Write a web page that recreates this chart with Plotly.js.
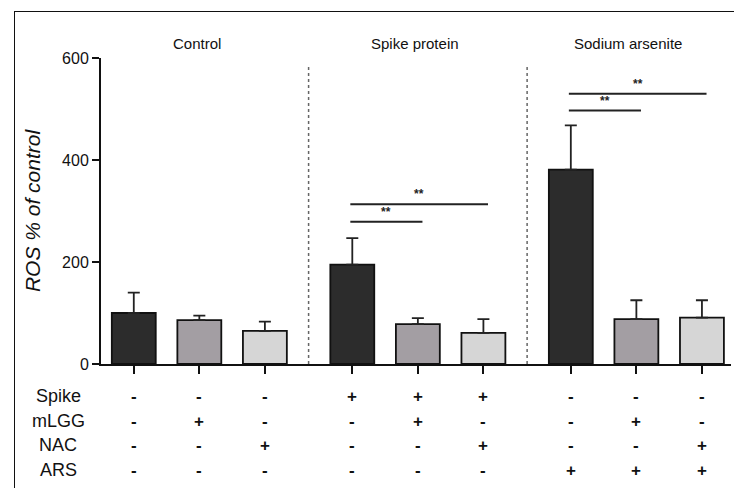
<!DOCTYPE html>
<html>
<head>
<meta charset="utf-8">
<script src="https://cdn.plot.ly/plotly-3.0.1.min.js"></script>
<style>html,body{margin:0;padding:0;background:#fff;}#chart{width:734px;height:488px;}</style>
</head>
<body>
<div id="chart"></div>
<script>
// ---- data ----
const groups = ['Control', 'Spike protein', 'Sodium arsenite'];
const groupOfBar = [0, 0, 0, 1, 1, 1, 2, 2, 2];
const treatment = ['None', 'mLGG', 'NAC', 'None', 'mLGG', 'NAC', 'None', 'mLGG', 'NAC'];
const rosMean = [100, 86, 65, 195, 78, 61, 381, 88, 91];
const rosSem = [40, 9, 18, 52, 12, 27, 87, 37, 34];
const rowLabels = ['Spike', 'mLGG', 'NAC', 'ARS'];
const rowSpike = ['-', '-', '-', '+', '+', '+', '-', '-', '-'];
const rowMLGG  = ['-', '+', '-', '-', '+', '-', '-', '+', '-'];
const rowNAC   = ['-', '-', '+', '-', '-', '+', '-', '-', '+'];
const rowARS   = ['-', '-', '-', '-', '-', '-', '+', '+', '+'];
const sigFrom = [3, 3, 6, 6];
const sigTo = [4, 5, 7, 8];
const sigLevel = [279, 313, 497, 530];
const sigLabel = ['**', '**', '**', '**'];
const yTicks = [0, 200, 400, 600];

// ---- layout helpers ----
const W = 734, H = 488;
const mL = 15, mT = 12;                 // outer frame position
const plotL = 101, plotR = 731, plotT = 58, plotB = 364;
const paperW = W - mL, paperH = H - mT;
const xDomain = [(plotL - mL) / paperW, (plotR - mL) / paperW];
const yDomain = [(H - plotB) / paperH, 1 - (plotT - mT) / paperH];

const groupGap = 1 / 3;
const pos = groupOfBar.map((g, i) => i + g * groupGap);
const colorMap = {None: '#2c2c2c', mLGG: '#a39ea3', NAC: '#d6d6d6'};
const barColors = treatment.map(t => colorMap[t]);
const font = 'Liberation Sans, Arial, sans-serif';

const rows = [rowSpike, rowMLGG, rowNAC, rowARS];
const rowY = [-0.105, -0.187, -0.266, -0.347];

const annotations = [];
const shapes = [];

// group titles
const titleShift = [-0.04, -0.05, -0.13];
groups.forEach((g, gi) => {
  const idx = groupOfBar.map((v, i) => v === gi ? i : -1).filter(i => i >= 0);
  const cx = idx.reduce((s, i) => s + pos[i], 0) / idx.length;
  annotations.push({x: cx + titleShift[gi], y: 1.049, xref: 'x', yref: 'y domain',
    text: g, showarrow: false, font: {family: font, size: 15, color: '#111'}, xanchor: 'center', yanchor: 'middle'});
});

// treatment table
rows.forEach((r, ri) => {
  annotations.push({x: -0.0675, y: rowY[ri], xref: 'x domain', yref: 'y domain', text: rowLabels[ri], showarrow: false,
    font: {family: font, size: 18, color: '#111'}, xanchor: 'center', yanchor: 'middle'});
  r.forEach((s, i) => {
    annotations.push({x: pos[i], y: rowY[ri], xref: 'x', yref: 'y domain', text: '<b>' + s + '</b>', showarrow: false,
      font: {family: font, size: 17, color: '#111'}, xanchor: 'center', yanchor: 'middle'});
  });
});

// separators
for (let gi = 1; gi < groups.length; gi++) {
  const last = groupOfBar.lastIndexOf(gi - 1);
  const first = groupOfBar.indexOf(gi);
  const xm = (pos[last] + pos[first]) / 2;
  shapes.push({type: 'line', xref: 'x', yref: 'y', x0: xm, x1: xm, y0: 0, y1: 584,
    line: {color: '#666', width: 1.5, dash: 'dot'}});
}

// significance bars
sigFrom.forEach((a, k) => {
  const x0 = pos[a] - 0.03, x1 = pos[sigTo[k]] + 0.07;
  shapes.push({type: 'line', xref: 'x', yref: 'y', x0: x0, x1: x1, y0: sigLevel[k], y1: sigLevel[k],
    line: {color: '#222', width: 2}});
  annotations.push({x: (x0 + x1) / 2, y: sigLevel[k], xref: 'x', yref: 'y', text: '<b>' + sigLabel[k] + '</b>', showarrow: false,
    font: {family: font, size: 12, color: '#222'}, xanchor: 'center', yanchor: 'bottom', yshift: 1});
});

const trace = {
  type: 'bar',
  x: pos,
  y: rosMean,
  width: 0.67,
  text: treatment,
  hoverinfo: 'y',
  textposition: 'none',
  marker: {color: barColors, line: {color: '#111', width: 1.8}},
  error_y: {type: 'data', symmetric: false, array: rosSem, arrayminus: rosSem.map(() => 0),
    color: '#222', thickness: 1.8, width: 6}
};

// empty trace on a full-paper subplot whose axis lines form the outer frame
const frameTrace = {type: 'scatter', x: [], y: [], xaxis: 'x2', yaxis: 'y2', hoverinfo: 'skip', showlegend: false};

const frameAxis = {domain: [0, 1], range: [0, 1], showline: true, linecolor: '#111', linewidth: 1.5,
  showgrid: false, zeroline: false, showticklabels: false, ticks: '', fixedrange: true};

const layout = {
  width: W, height: H,
  margin: {l: mL, r: 0, t: mT, b: 0, pad: 0},
  paper_bgcolor: '#fff', plot_bgcolor: 'rgba(0,0,0,0)',
  showlegend: false,
  font: {family: font, color: '#111'},
  xaxis: {domain: xDomain, range: [-0.5, 9.11], showgrid: false, zeroline: false, showline: true, linecolor: '#111', linewidth: 2,
    ticks: 'outside', ticklen: 8, tickwidth: 2, tickcolor: '#111', tickvals: pos, showticklabels: false, fixedrange: true},
  yaxis: {domain: yDomain, range: [0, 600], showgrid: false, zeroline: false, showline: true, linecolor: '#111', linewidth: 2,
    ticks: 'outside', ticklen: 7, tickwidth: 2, tickcolor: '#111', tickvals: yTicks, ticktext: yTicks.map(String),
    tickfont: {family: font, size: 16, color: '#111'}, ticklabelstandoff: 0,
    title: {text: '<i>ROS % of control</i>', font: {family: font, size: 21, color: '#111'}, standoff: 16}},
  xaxis2: Object.assign({anchor: 'y2', side: 'top'}, frameAxis),
  yaxis2: Object.assign({anchor: 'x2', side: 'left'}, frameAxis),
  shapes: shapes,
  annotations: annotations
};

Plotly.newPlot('chart', [trace, frameTrace], layout, {displayModeBar: false, staticPlot: true});
</script>
</body>
</html>
